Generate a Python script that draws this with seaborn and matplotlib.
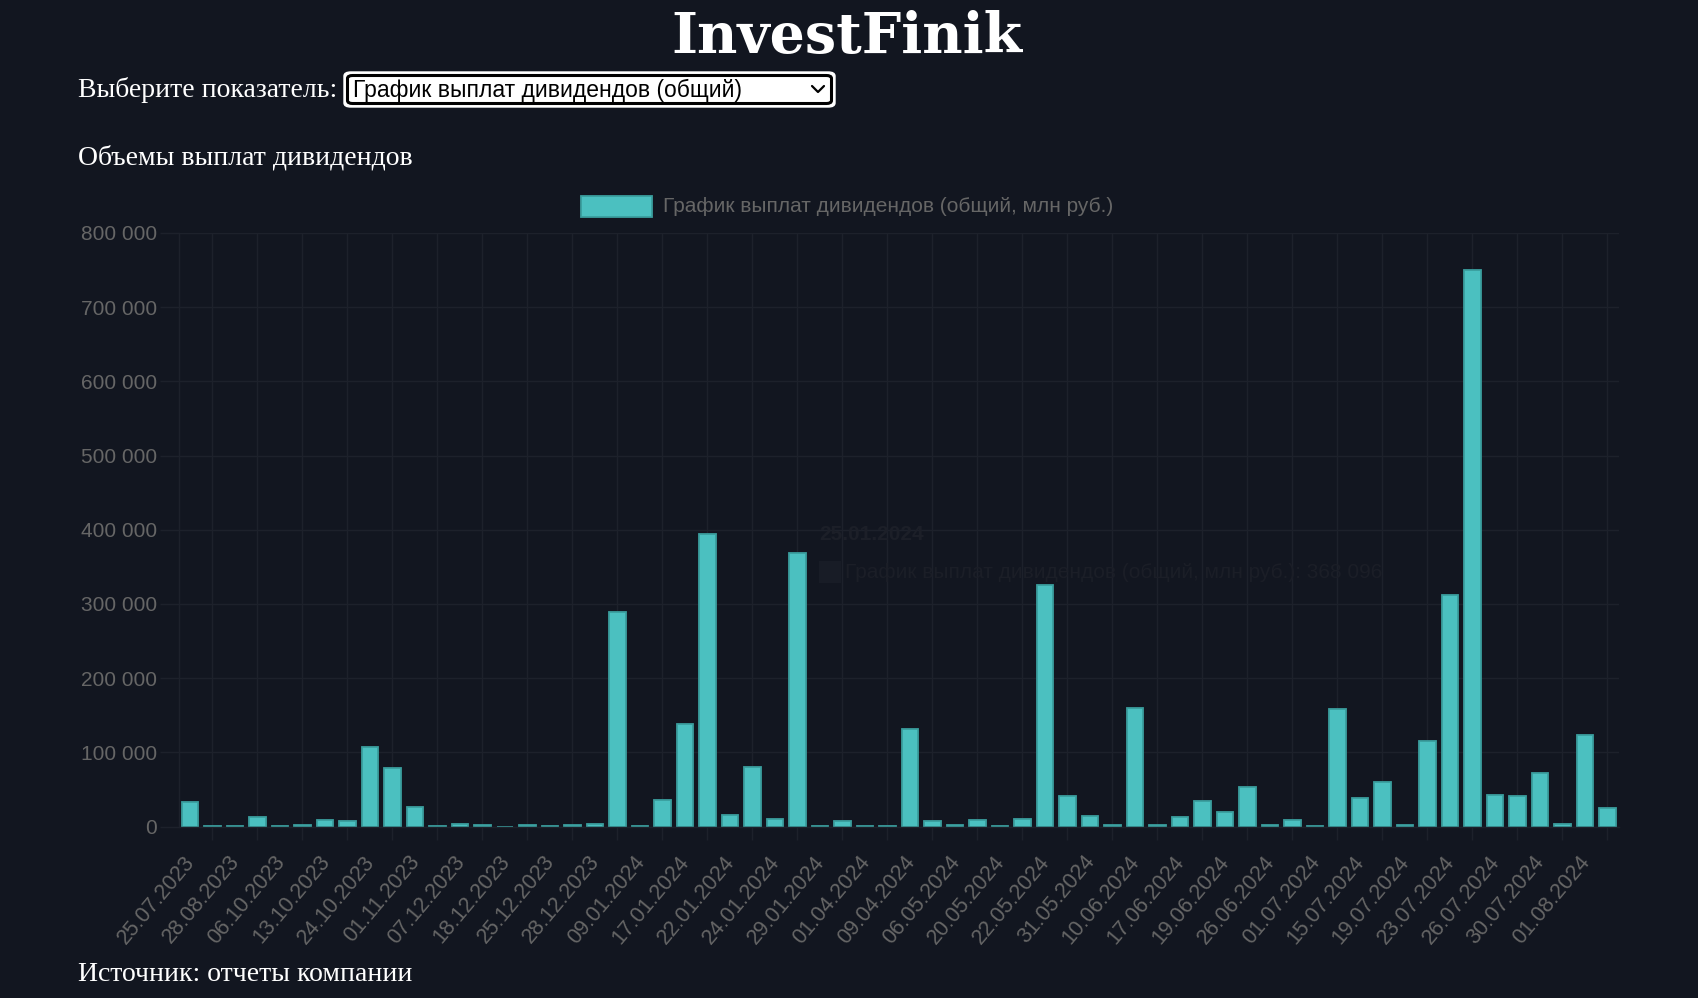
import matplotlib
matplotlib.use("Agg")
import matplotlib.pyplot as plt
import matplotlib.transforms as mtransforms
import seaborn as sns
import pandas as pd
from matplotlib.patches import Rectangle, FancyBboxPatch
from matplotlib.lines import Line2D

# даты выплат (каждая вторая подписана на оси)
dates = [
    "25.07.2023", "11.08.2023", "28.08.2023", "04.10.2023", "06.10.2023", "10.10.2023",
    "13.10.2023", "20.10.2023", "24.10.2023", "27.10.2023", "01.11.2023", "20.11.2023",
    "07.12.2023", "14.12.2023", "18.12.2023", "22.12.2023", "25.12.2023", "27.12.2023",
    "28.12.2023", "29.12.2023", "09.01.2024", "12.01.2024", "17.01.2024", "19.01.2024",
    "22.01.2024", "23.01.2024", "24.01.2024", "25.01.2024", "29.01.2024", "15.03.2024",
    "01.04.2024", "05.04.2024", "09.04.2024", "22.04.2024", "06.05.2024", "14.05.2024",
    "20.05.2024", "21.05.2024", "22.05.2024", "28.05.2024", "31.05.2024", "07.06.2024",
    "10.06.2024", "14.06.2024", "17.06.2024", "18.06.2024", "19.06.2024", "21.06.2024",
    "26.06.2024", "28.06.2024", "01.07.2024", "12.07.2024", "15.07.2024", "18.07.2024",
    "19.07.2024", "22.07.2024", "23.07.2024", "25.07.2024", "26.07.2024", "29.07.2024",
    "30.07.2024", "31.07.2024", "01.08.2024", "05.08.2024",
]

# объем выплат, млн руб.
payouts = [
    33000, 500, 500, 12600, 300, 2300, 9000, 7700, 107700, 79300,
    26600, 700, 3600, 2300, 0, 2300, 700, 1800, 3200, 288500,
    800, 36000, 138700, 394000, 15300, 80600, 10400, 368096, 700, 6800,
    700, 200, 132000, 7200, 1800, 9000, 300, 10400, 325000, 41400,
    14400, 2300, 159400, 1800, 13100, 33800, 19800, 53100, 1400, 9000,
    900, 159000, 38300, 59900, 2300, 115800, 311500, 750800, 42800, 40500,
    71600, 3600, 123900, 25200,
]

series_name = "График выплат дивидендов (общий, млн руб.)"

df = pd.DataFrame({"date": dates, "value": payouts})

W, H = 1699, 998
BG = "#121620"
GRID = "#1d212b"
TICK = "#666666"
TEAL = "#4bc0c0"
TEAL_EDGE = "#3a9e9e"

sns.set_theme(style="dark")
plt.rcParams["font.family"] = ["Liberation Sans", "DejaVu Sans"]


def fx(x):
    return x / W


def fy(y):
    return 1 - y / H


fig = plt.figure(figsize=(W / 100, H / 100), dpi=100, facecolor=BG)
ax = fig.add_axes([fx(178.75), fy(826.5), (1618.75 - 178.75) / W, (826.5 - 233) / H])
ax.set_facecolor(BG)

sns.barplot(data=df, x="date", y="value", color=TEAL, saturation=1,
            width=0.72, edgecolor=TEAL_EDGE, linewidth=1.3, ax=ax)

ax.set_xlim(-0.5, len(dates) - 0.5)
ax.set_ylim(0, 800000)
ax.set_xlabel("")
ax.set_ylabel("")

# ось Y
yt = list(range(0, 800001, 100000))
ax.set_yticks(yt)
ax.set_yticklabels([f"{v:,}".replace(",", " ") for v in yt], color=TICK, fontsize=15)
ax.tick_params(axis="y", length=13.5, width=1, color=GRID, pad=2, left=True)

# ось X: подписи через одну, сетка между ними
ax.set_xticks(range(0, len(dates), 2))
ax.set_xticklabels(dates[::2], rotation=50, ha="right", rotation_mode="anchor",
                   color=TICK, fontsize=15.5)
ax.tick_params(axis="x", which="major", length=0, pad=18)
shift = mtransforms.ScaledTranslation(-7 / 100, 0, fig.dpi_scale_trans)
for lbl in ax.get_xticklabels():
    lbl.set_transform(lbl.get_transform() + shift)
ax.set_xticks(range(1, len(dates), 2), minor=True)
ax.tick_params(axis="x", which="minor", length=9.5, width=1, color=GRID, bottom=True)

ax.grid(False)
ax.yaxis.grid(True, color=GRID, linewidth=1)
ax.xaxis.grid(True, which="minor", color=GRID, linewidth=1)
ax.set_axisbelow(True)
for s in ["top", "right"]:
    ax.spines[s].set_visible(False)
for s in ["left", "bottom"]:
    ax.spines[s].set_color(GRID)
    ax.spines[s].set_linewidth(1)

# затухающая подсказка
fig.text(fx(819), fy(535), "25.01.2024", color="#1c1f28", fontsize=15,
         fontweight="bold", va="center", ha="left", zorder=6)
fig.patches.append(Rectangle((fx(819), fy(583)), 22 / W, 22 / H,
                             transform=fig.transFigure, facecolor="#181c26",
                             edgecolor="none", zorder=6))
fig.text(fx(845), fy(572), series_name + ": 368 096", color="#1b1e27", fontsize=15,
         va="center", ha="left", zorder=6)

# легенда
fig.patches.append(Rectangle((fx(581), fy(217)), 71 / W, 21 / H,
                             transform=fig.transFigure, facecolor=TEAL,
                             edgecolor=TEAL_EDGE, linewidth=1.3))
fig.text(fx(663), fy(206), series_name, color=TICK, fontsize=15, va="center", ha="left")

# заголовок страницы
fig.text(fx(847), fy(53), "InvestFinik", color="white", fontsize=40,
         fontweight="bold", family=["DejaVu Serif"], ha="center", va="baseline")

serif = ["Liberation Serif", "DejaVu Serif"]
fig.text(fx(78), fy(97), "Выберите показатель:", color="white", fontsize=20,
         family=serif, ha="left", va="baseline")

# выпадающий список
fig.patches.append(FancyBboxPatch((fx(344), fy(107)), (835 - 344) / W, (107 - 72) / H,
                                  boxstyle="round,pad=0,rounding_size=0.004",
                                  transform=fig.transFigure, facecolor="white",
                                  edgecolor="white", linewidth=1))
fig.patches.append(FancyBboxPatch((fx(347.5), fy(103.5)), (831.5 - 347.5) / W, (103.5 - 75.5) / H,
                                  boxstyle="round,pad=0,rounding_size=0.003",
                                  transform=fig.transFigure, facecolor="white",
                                  edgecolor="black", linewidth=2.2))
fig.text(fx(353), fy(97), "График выплат дивидендов (общий)", color="black",
         fontsize=16.5, ha="left", va="baseline")
fig.lines.append(Line2D([fx(812), fx(818), fx(824)], [fy(86), fy(92), fy(86)],
                        transform=fig.transFigure, color="black", linewidth=1.6))

fig.text(fx(78), fy(165), "Объемы выплат дивидендов", color="white", fontsize=20,
         family=serif, ha="left", va="baseline")
fig.text(fx(78), fy(981), "Источник: отчеты компании", color="white", fontsize=20,
         family=serif, ha="left", va="baseline")

fig.savefig("out.png", dpi=100, facecolor=BG)
